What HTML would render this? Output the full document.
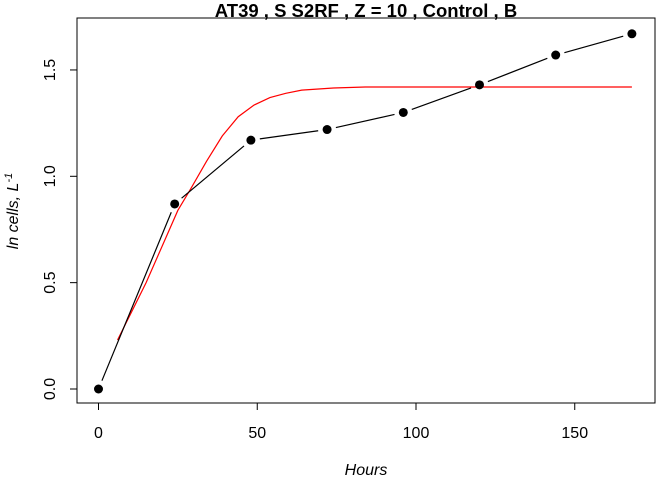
<!DOCTYPE html>
<html><head><meta charset="utf-8"><style>
body{margin:0;background:#fff}
svg text{font-family:"Liberation Sans",Arial,sans-serif}
</style></head><body>
<svg id="chart" width="672" height="480" xmlns="http://www.w3.org/2000/svg">
<rect width="672" height="480" fill="#fff"/>
<text x="366" y="17" font-size="18.5" font-weight="bold" text-anchor="middle">AT39 , S S2RF , Z = 10 , Control , B</text>
<rect x="77" y="18" width="578" height="385" fill="none" stroke="#000"/>
<g id="xaxis"></g>
<g id="yaxis"></g>
<g id="marks"></g>
<text x="366" y="475" font-size="16" font-style="italic" text-anchor="middle">Hours</text>
<text transform="translate(18,211) rotate(-90)" font-size="16" font-style="italic" text-anchor="middle">ln cells, L<tspan dy="-6" font-size="11">-1</tspan></text>
</svg>
<script>
const obsHours=[0,24,48,72,96,120,144,168];
const obsValues=[0,0.87,1.17,1.22,1.30,1.43,1.57,1.67];
const fitHours=[6,10,15,20,25,29,34,39,44,49,54,59,64,74,84,100,168];
const fitValues=[0.23,0.35,0.50,0.67,0.84,0.94,1.07,1.19,1.28,1.335,1.37,1.39,1.405,1.415,1.42,1.42,1.42];
const xTicks=[0,50,100,150];
const yTicks=[0,0.5,1.0,1.5];
const yTickLabels=["0.0","0.5","1.0","1.5"];
const NS="http://www.w3.org/2000/svg";
const xs=v=>98.5+v*3.175;
const ys=v=>389-v*212.7;
function mk(t,a,p){const e=document.createElementNS(NS,t);for(const k in a)e.setAttribute(k,a[k]);p.appendChild(e);return e;}
const xa=document.getElementById('xaxis'),ya=document.getElementById('yaxis'),mg=document.getElementById('marks');
xTicks.forEach(t=>{
 const l=mk('line',{x1:xs(t),x2:xs(t),y1:403,y2:410,stroke:'#000'},xa);
 
 
 const tx=mk('text',{x:xs(t),y:438,'font-size':16,'text-anchor':'middle'},xa);tx.textContent=t;
 
 
});
mk('line',{x1:xs(0),x2:xs(150),y1:403,y2:403,stroke:'#000'},xa);
yTicks.forEach((t,i)=>{
 const l=mk('line',{x1:70,x2:77,y1:ys(t),y2:ys(t),stroke:'#000'},ya);
 
 
 const tx=mk('text',{transform:`translate(55,${ys(t)}) rotate(-90)`,'font-size':16,'text-anchor':'middle'},ya);tx.textContent=yTickLabels[i];
 
 
});
const fp=fitHours.map((h,i)=>`${i?'L':'M'}${xs(h)},${ys(fitValues[i])}`).join(' ');
const fit=mk('path',{d:fp,fill:'none',stroke:'#ff0000','stroke-width':1.2},mg);


for(let i=0;i<obsHours.length-1;i++){
 const x1=xs(obsHours[i]),y1=ys(obsValues[i]),x2=xs(obsHours[i+1]),y2=ys(obsValues[i+1]);
 const d=Math.hypot(x2-x1,y2-y1),g=9,ux=(x2-x1)/d,uy=(y2-y1)/d;
 const s=mk('line',{x1:x1+ux*g,y1:y1+uy*g,x2:x2-ux*g,y2:y2-uy*g,stroke:'#000','stroke-width':1.2},mg);
 
 
}
obsHours.forEach((h,i)=>{
 const c=mk('circle',{cx:xs(h),cy:ys(obsValues[i]),r:4.5,fill:'#000'},mg);
 
 
});
</script>
</body></html>
